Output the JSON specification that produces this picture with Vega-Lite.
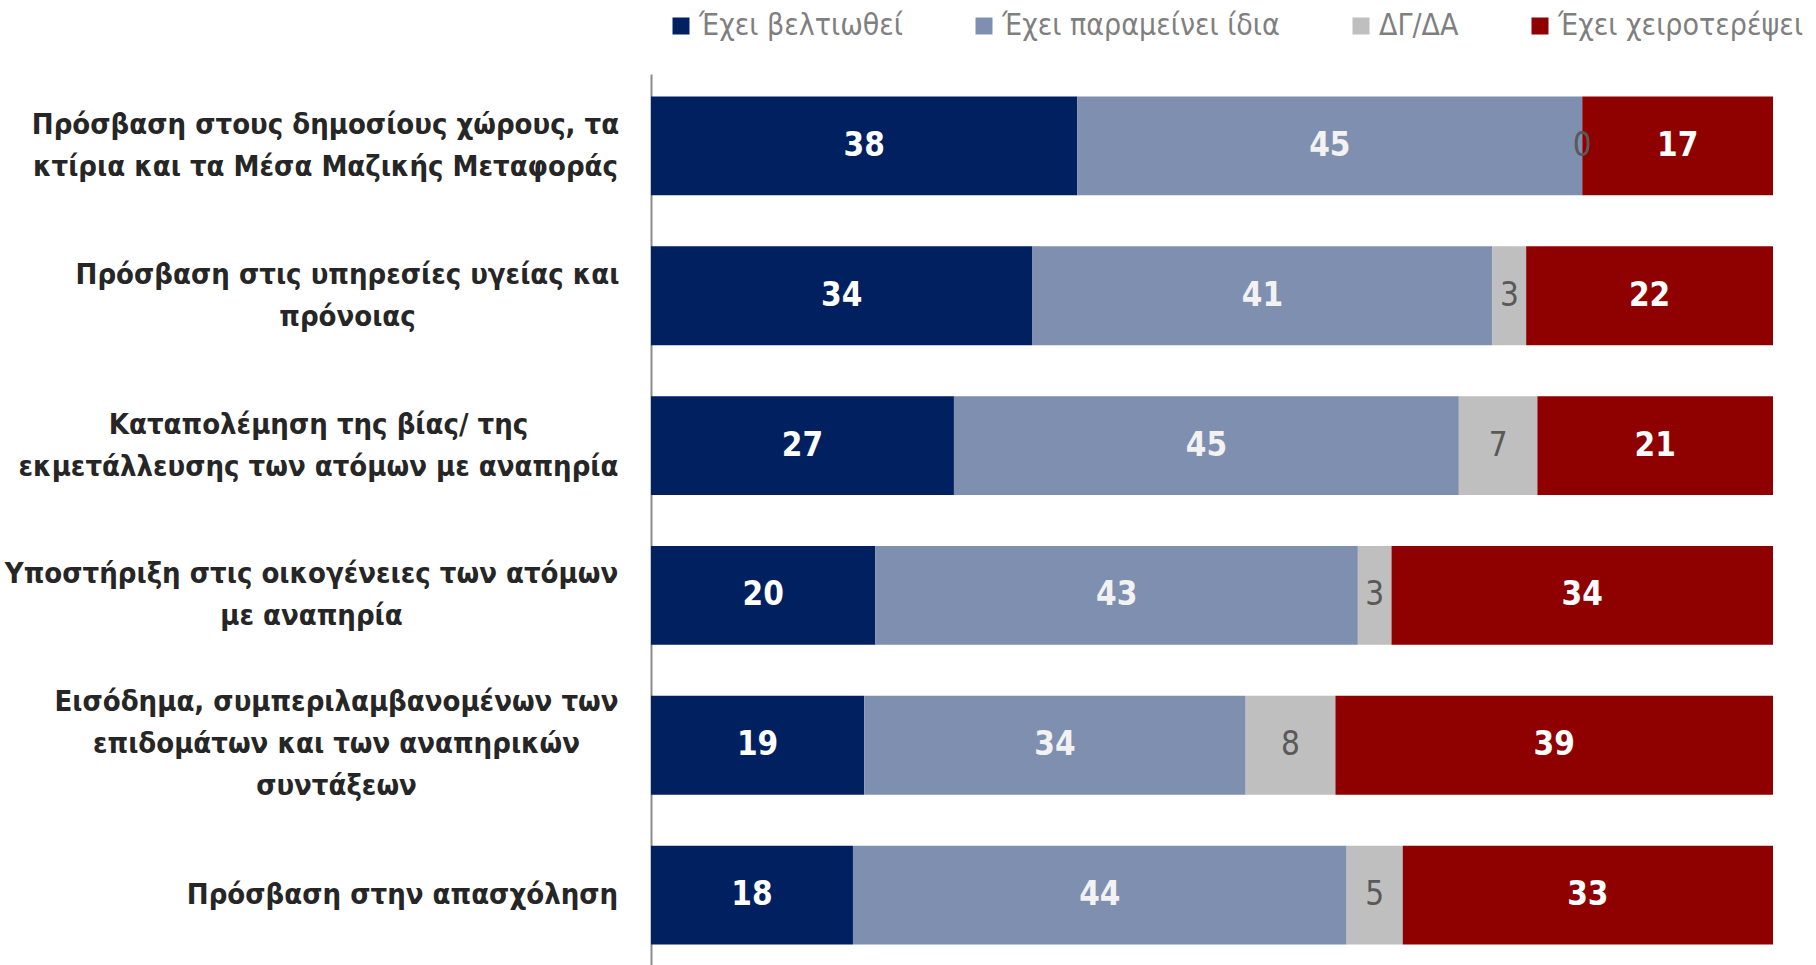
{
  "$schema": "https://vega.github.io/schema/vega-lite/v6.json",
  "width": 1122,
  "height": 893,
  "autosize": {"type": "none"},
  "padding": {"left": 651, "top": 74, "right": 43, "bottom": 0},
  "background": "white",
  "config": {"view": {"stroke": null}, "font": "DejaVu Sans Condensed"},
  "data": {
    "values": [
      {"item": "Πρόσβαση στους δημοσίους χώρους, τα\nκτίρια και τα Μέσα Μαζικής Μεταφοράς", "cat": "Έχει βελτιωθεί", "o": 1, "value": 38},
      {"item": "Πρόσβαση στους δημοσίους χώρους, τα\nκτίρια και τα Μέσα Μαζικής Μεταφοράς", "cat": "Έχει παραμείνει ίδια", "o": 2, "value": 45},
      {"item": "Πρόσβαση στους δημοσίους χώρους, τα\nκτίρια και τα Μέσα Μαζικής Μεταφοράς", "cat": "ΔΓ/ΔΑ", "o": 3, "value": 0},
      {"item": "Πρόσβαση στους δημοσίους χώρους, τα\nκτίρια και τα Μέσα Μαζικής Μεταφοράς", "cat": "Έχει χειροτερέψει", "o": 4, "value": 17},
      {"item": "Πρόσβαση στις υπηρεσίες υγείας και\nπρόνοιας", "cat": "Έχει βελτιωθεί", "o": 1, "value": 34},
      {"item": "Πρόσβαση στις υπηρεσίες υγείας και\nπρόνοιας", "cat": "Έχει παραμείνει ίδια", "o": 2, "value": 41},
      {"item": "Πρόσβαση στις υπηρεσίες υγείας και\nπρόνοιας", "cat": "ΔΓ/ΔΑ", "o": 3, "value": 3},
      {"item": "Πρόσβαση στις υπηρεσίες υγείας και\nπρόνοιας", "cat": "Έχει χειροτερέψει", "o": 4, "value": 22},
      {"item": "Καταπολέμηση της βίας/ της\nεκμετάλλευσης των ατόμων με αναπηρία", "cat": "Έχει βελτιωθεί", "o": 1, "value": 27},
      {"item": "Καταπολέμηση της βίας/ της\nεκμετάλλευσης των ατόμων με αναπηρία", "cat": "Έχει παραμείνει ίδια", "o": 2, "value": 45},
      {"item": "Καταπολέμηση της βίας/ της\nεκμετάλλευσης των ατόμων με αναπηρία", "cat": "ΔΓ/ΔΑ", "o": 3, "value": 7},
      {"item": "Καταπολέμηση της βίας/ της\nεκμετάλλευσης των ατόμων με αναπηρία", "cat": "Έχει χειροτερέψει", "o": 4, "value": 21},
      {"item": "Υποστήριξη στις οικογένειες των ατόμων\nμε αναπηρία", "cat": "Έχει βελτιωθεί", "o": 1, "value": 20},
      {"item": "Υποστήριξη στις οικογένειες των ατόμων\nμε αναπηρία", "cat": "Έχει παραμείνει ίδια", "o": 2, "value": 43},
      {"item": "Υποστήριξη στις οικογένειες των ατόμων\nμε αναπηρία", "cat": "ΔΓ/ΔΑ", "o": 3, "value": 3},
      {"item": "Υποστήριξη στις οικογένειες των ατόμων\nμε αναπηρία", "cat": "Έχει χειροτερέψει", "o": 4, "value": 34},
      {"item": "Εισόδημα, συμπεριλαμβανομένων των\nεπιδομάτων και  των αναπηρικών\nσυντάξεων", "cat": "Έχει βελτιωθεί", "o": 1, "value": 19},
      {"item": "Εισόδημα, συμπεριλαμβανομένων των\nεπιδομάτων και  των αναπηρικών\nσυντάξεων", "cat": "Έχει παραμείνει ίδια", "o": 2, "value": 34},
      {"item": "Εισόδημα, συμπεριλαμβανομένων των\nεπιδομάτων και  των αναπηρικών\nσυντάξεων", "cat": "ΔΓ/ΔΑ", "o": 3, "value": 8},
      {"item": "Εισόδημα, συμπεριλαμβανομένων των\nεπιδομάτων και  των αναπηρικών\nσυντάξεων", "cat": "Έχει χειροτερέψει", "o": 4, "value": 39},
      {"item": "Πρόσβαση στην απασχόληση", "cat": "Έχει βελτιωθεί", "o": 1, "value": 18},
      {"item": "Πρόσβαση στην απασχόληση", "cat": "Έχει παραμείνει ίδια", "o": 2, "value": 44},
      {"item": "Πρόσβαση στην απασχόληση", "cat": "ΔΓ/ΔΑ", "o": 3, "value": 5},
      {"item": "Πρόσβαση στην απασχόληση", "cat": "Έχει χειροτερέψει", "o": 4, "value": 33}
    ]
  },
  "encoding": {
    "y": {
      "field": "item",
      "type": "nominal",
      "sort": null,
      "scale": {"paddingInner": 0.34, "paddingOuter": 0.15},
      "axis": {
        "title": null,
        "domain": true,
        "domainColor": "#8c8c8c",
        "domainWidth": 2,
        "ticks": false,
        "grid": false,
        "labelPadding": {
          "condition": [
            {"test": "indexof(datum.value, 'δημοσίους') >= 0", "value": 326},
            {"test": "indexof(datum.value, 'υπηρεσίες') >= 0", "value": 304},
            {"test": "indexof(datum.value, 'Καταπολέμηση') >= 0", "value": 333},
            {"test": "indexof(datum.value, 'Υποστήριξη') >= 0", "value": 340},
            {"test": "indexof(datum.value, 'Εισόδημα') >= 0", "value": 315}
          ],
          "value": 249
        },
        "labelOffset": {
          "condition": [
            {"test": "indexof(datum.value, 'Εισόδημα') >= 0", "value": -43},
            {"test": "indexof(datum.value, 'απασχόληση') >= 0", "value": 0}
          ],
          "value": -21
        },
        "labelFont": "DejaVu Sans Condensed",
        "labelFontSize": 29,
        "labelFontWeight": "bold",
        "labelColor": "#262626",
        "labelLineHeight": 42,
        "labelLimit": 0,
        "labelAlign": "center",
        "labelExpr": "split(datum.label, '\\n')"
      }
    }
  },
  "layer": [
    {
      "mark": {"type": "bar"},
      "encoding": {
        "x": {"field": "value", "type": "quantitative", "stack": "zero", "scale": {"domain": [0, 100]}, "axis": null},
        "color": {
          "field": "cat",
          "type": "nominal",
          "scale": {
            "domain": ["Έχει βελτιωθεί", "Έχει παραμείνει ίδια", "ΔΓ/ΔΑ", "Έχει χειροτερέψει"],
            "range": ["#002060", "#7f8fb0", "#bfbfbf", "#8f0000"]
          },
          "legend": {
            "orient": "none",
            "legendX": 15,
            "legendY": -63,
            "direction": "horizontal",
            "title": null,
            "symbolType": "square",
            "symbolSize": 289,
            "symbolStrokeWidth": 0,
            "labelFont": "DejaVu Sans Condensed",
            "labelFontSize": 30,
            "labelColor": "#7f7f7f",
            "columnPadding": 66,
            "labelOffset": 3,
            "padding": 0,
            "labelLimit": 0
          }
        },
        "order": {"field": "o", "type": "quantitative"}
      }
    },
    {
      "transform": [
        {"stack": "value", "groupby": ["item"], "sort": [{"field": "o", "order": "ascending"}], "as": ["s0", "s1"]},
        {"fold": ["s0", "s1"], "as": ["k", "pos"]}
      ],
      "encoding": {
        "x": {"aggregate": "mean", "field": "pos", "type": "quantitative", "stack": null},
        "text": {"field": "value", "type": "quantitative"},
        "detail": {"field": "cat", "type": "nominal"}
      },
      "layer": [
        {
          "transform": [{"filter": "datum.cat !== 'ΔΓ/ΔΑ'"}],
          "mark": {"type": "text", "font": "DejaVu Sans Condensed", "fontSize": 33, "fontWeight": "bold", "align": "center", "baseline": "middle"},
          "encoding": {
            "color": {"condition": {"test": "datum.cat === 'Έχει παραμείνει ίδια'", "value": "#f2f2f2"}, "value": "#ffffff"}
          }
        },
        {
          "transform": [{"filter": "datum.cat === 'ΔΓ/ΔΑ'"}],
          "mark": {"type": "text", "font": "DejaVu Sans Condensed", "fontSize": 33, "fontWeight": "normal", "align": "center", "baseline": "middle", "color": "#595959"}
        }
      ]
    }
  ]
}
